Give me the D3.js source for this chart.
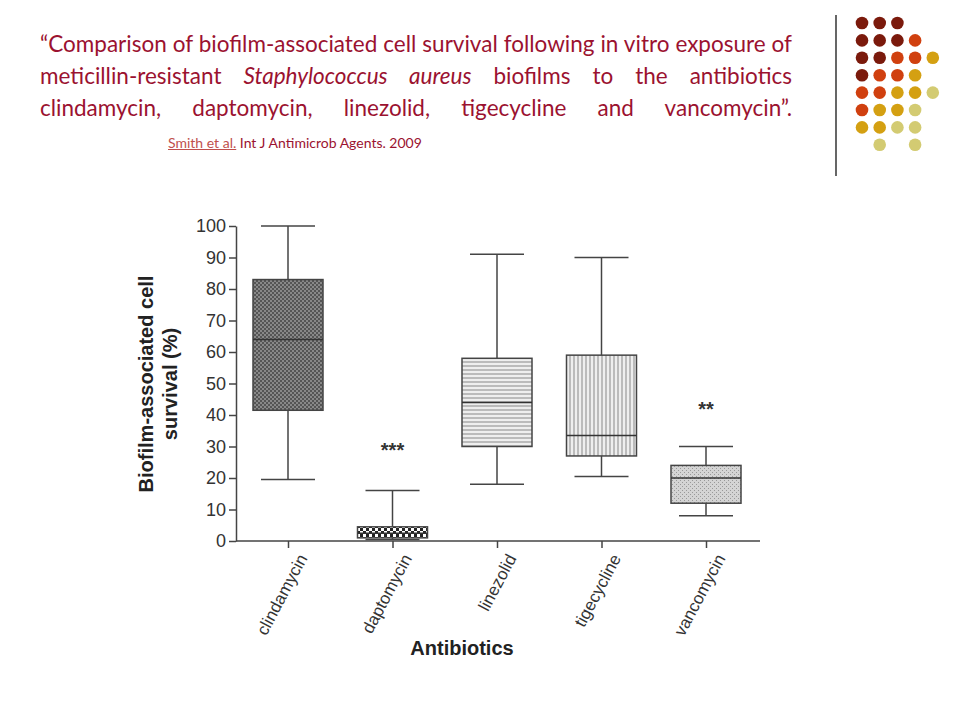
<!DOCTYPE html>
<html><head><meta charset="utf-8">
<script src="https://cdn.jsdelivr.net/npm/d3@7"></script>
<style>
body{margin:0;background:#fff;width:960px;height:720px;overflow:hidden;position:relative;font-family:Lato,sans-serif}
.title{position:absolute;left:40px;top:28px;width:752px;font-size:22.5px;line-height:32px;color:#9b1230;text-align:justify;text-align-last:left}
.cite{font-size:14px;color:#9b1230;margin-left:128px}
.cite u{color:#c0504d}
svg{position:absolute;left:0;top:0}
</style></head><body>
<div class="title">“Comparison of biofilm-associated cell survival following in vitro exposure of meticillin-resistant <i>Staphylococcus aureus</i> biofilms to the antibiotics clindamycin, daptomycin, linezolid, tigecycline and vancomycin”. <span class="cite"><u>Smith et al.</u> Int J Antimicrob Agents. 2009</span></div>
<script>
var antibiotics = ["clindamycin","daptomycin","linezolid","tigecycline","vancomycin"];
var mins = [19.5,0.5,18,20.5,8];
var q1s = [41.5,1,30,27,12];
var medians = [64,2.5,44,33.5,20];
var q3s = [83,4.5,58,59,24];
var maxs = [100,16,91,90,30];
var stars = ["","***","","","**"];
var starY = [0,30,0,0,43];
var yTicks = [0,10,20,30,40,50,60,70,80,90,100];

var dotColors = {D:"#7b1a0c",O:"#d0400f",G:"#d4a012",L:"#d3cb72"};
var dotRows = ["DDD","DDDO","DDOOG","DOOG","OOGGL","OGGL","GGLL"," L L"];

var svg = d3.select("body").append("svg").attr("width",960).attr("height",720);

// decoration
svg.append("line").attr("x1",836).attr("x2",836).attr("y1",15).attr("y2",176).attr("stroke","#000").attr("stroke-width",1.2);
dotRows.forEach(function(row,r){
  row.split("").forEach(function(c,i){
    if(c==" ") return;
    svg.append("circle").attr("cx",862+i*17.7).attr("cy",23+r*17.4).attr("r",6.3).attr("fill",dotColors[c]);
  });
});

var defs = svg.append("defs");
function pat(id,bg,draw){
  var p = defs.append("pattern").attr("id",id).attr("patternUnits","userSpaceOnUse").attr("width",4).attr("height",4);
  p.append("rect").attr("width",4).attr("height",4).attr("fill",bg);
  draw(p);
}
pat("p0","#888",function(p){p.append("rect").attr("width",2).attr("height",2).attr("fill","#555");p.append("rect").attr("x",2).attr("y",2).attr("width",2).attr("height",2).attr("fill","#555");});
pat("p1","#fff",function(p){p.attr("width",6).attr("height",6);p.select("rect").attr("width",6).attr("height",6);p.append("rect").attr("width",3).attr("height",3).attr("fill","#222");p.append("rect").attr("x",3).attr("y",3).attr("width",3).attr("height",3).attr("fill","#222");});
pat("p2","#eee",function(p){p.append("line").attr("x1",0).attr("x2",4).attr("y1",2).attr("y2",2).attr("stroke","#888").attr("stroke-width",1);});
pat("p3","#eee",function(p){p.append("line").attr("y1",0).attr("y2",4).attr("x1",2).attr("x2",2).attr("stroke","#888").attr("stroke-width",1);});
pat("p4","#d4d4d4",function(p){p.append("rect").attr("width",1).attr("height",1).attr("fill","#999");p.append("rect").attr("x",2).attr("y",2).attr("width",1).attr("height",1).attr("fill","#999");});

var y = d3.scaleLinear().domain([0,100]).range([541,226]);
var x = d3.scalePoint().domain(antibiotics).range([288,706]);
var bw = 70, cw = 54;

var g = svg.append("g").attr("font-family","Liberation Sans, Arial, sans-serif");
var yAxis = g.append("g").attr("transform","translate(236,0)")
  .call(d3.axisLeft(y).tickValues(yTicks).tickSize(7).tickSizeOuter(0));
yAxis.selectAll("text").attr("font-size",18).attr("fill","#333");
yAxis.selectAll("line,path").attr("stroke","#444").attr("stroke-width",1.5);

var xAxis = g.append("g").attr("transform","translate(0,541)")
  .call(d3.axisBottom(x).tickSize(7).tickSizeOuter(0));
xAxis.select("path").attr("d","M236,0H760");
xAxis.selectAll("line,path").attr("stroke","#444").attr("stroke-width",1.5);
xAxis.selectAll("text").attr("font-size",17).attr("fill","#333")
  .attr("text-anchor","end").attr("dx","0").attr("dy","0.3em").attr("transform","translate(6,10) rotate(-62)");

antibiotics.forEach(function(a,i){
  var cx = x(a), s = "#444";
  g.append("line").attr("x1",cx).attr("x2",cx).attr("y1",y(maxs[i])).attr("y2",y(mins[i])).attr("stroke",s).attr("stroke-width",1.5);
  [maxs[i],mins[i]].forEach(function(v){
    g.append("line").attr("x1",cx-cw/2).attr("x2",cx+cw/2).attr("y1",y(v)).attr("y2",y(v)).attr("stroke",s).attr("stroke-width",1.5);
  });
  g.append("rect").attr("x",cx-bw/2).attr("width",bw).attr("y",y(q3s[i])).attr("height",y(q1s[i])-y(q3s[i]))
    .attr("fill","url(#p"+i+")").attr("stroke",s).attr("stroke-width",1.5);
  g.append("line").attr("x1",cx-bw/2).attr("x2",cx+bw/2).attr("y1",y(medians[i])).attr("y2",y(medians[i])).attr("stroke","#333").attr("stroke-width",1.5);
  if(stars[i]) g.append("text").attr("x",cx).attr("y",y(starY[i])+10).attr("text-anchor","middle")
    .attr("font-size",20).attr("font-weight","bold").attr("fill","#333").text(stars[i]);
});

g.append("text").attr("x",462).attr("y",655).attr("text-anchor","middle").attr("font-size",20).attr("font-weight","bold").attr("fill","#222").text("Antibiotics");
var yl = g.append("text").attr("transform","translate(0,384) rotate(-90)").attr("text-anchor","middle").attr("font-size",20).attr("font-weight","bold").attr("fill","#222");
yl.append("tspan").attr("x",0).attr("y",153).text("Biofilm-associated cell");
yl.append("tspan").attr("x",0).attr("y",177).text("survival (%)");
</script>
</body></html>
